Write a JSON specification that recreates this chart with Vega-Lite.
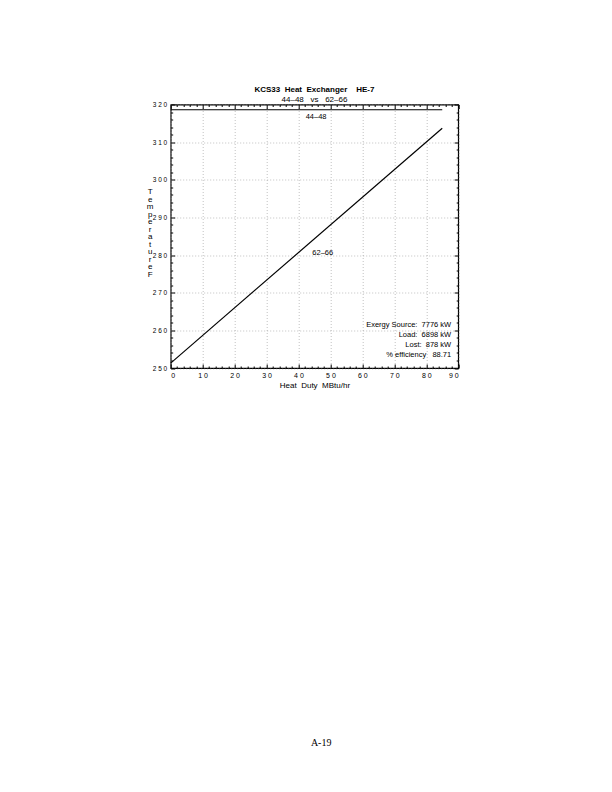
{
  "$schema": "https://vega.github.io/schema/vega-lite/v6.json",
  "autosize": {"type": "none"},
  "padding": {"left": 170.7, "top": 104.5, "right": 153.8, "bottom": 424},
  "width": 287.5,
  "height": 263.5,
  "background": "white",
  "config": {
    "view": {"stroke": "black", "strokeWidth": 1.2},
    "font": "Liberation Sans",
    "axis": {
      "domain": false,
      "labelFont": "Liberation Sans",
      "labelFontSize": 7,
      "labelColor": "black",
      "tickColor": "black",
      "tickWidth": 1,
      "titleFont": "Liberation Sans",
      "titleFontWeight": "normal",
      "titleColor": "black",
      "titleFontSize": 8
    }
  },
  "title": {
    "text": "KCS33\u00a0\u00a0Heat\u00a0\u00a0Exchanger\u00a0\u00a0\u00a0\u00a0HE-7",
    "subtitle": "44–48\u00a0\u00a0\u00a0vs\u00a0\u00a0\u00a062–66",
    "font": "Liberation Sans",
    "fontSize": 8,
    "fontWeight": "bold",
    "color": "black",
    "subtitleFont": "Liberation Sans",
    "subtitleFontSize": 8,
    "subtitleColor": "black",
    "subtitlePadding": 2,
    "anchor": "middle",
    "offset": -2
  },
  "datasets": {
    "lines": [
      {"duty": 0, "temp": 318.6, "stream": "44-48"},
      {"duty": 85, "temp": 318.6, "stream": "44-48"},
      {"duty": 0, "temp": 251.3, "stream": "62-66"},
      {"duty": 85, "temp": 313.7, "stream": "62-66"}
    ],
    "labels": [
      {"duty": 45.5, "temp": 316.6, "label": "44–48"},
      {"duty": 47.6, "temp": 280.6, "label": "62–66"}
    ],
    "info": [
      {"duty": 87.8, "temp": 261.4, "label": "Exergy Source:\u00a0 7776 kW"},
      {"duty": 87.8, "temp": 258.7, "label": "Load:\u00a0 6898 kW"},
      {"duty": 87.8, "temp": 256.0, "label": "Lost:\u00a0 878 kW"},
      {"duty": 87.8, "temp": 253.4, "label": "% efficiency\u00a0\u00a0 88.71"}
    ],
    "footer": [
      {"duty": 47.1, "temp": 150.4, "label": "A-19"}
    ]
  },
  "resolve": {"axis": {"x": "independent", "y": "independent"}},
  "layer": [
    {
      "data": {"name": "lines"},
      "transform": [{"filter": "datum.stream === '62-66'"}],
      "mark": {"type": "line", "color": "black", "strokeWidth": 1.2},
      "encoding": {
        "x": {
          "field": "duty", "type": "quantitative",
          "scale": {"domain": [0, 90], "nice": false, "zero": false},
          "axis": {
            "orient": "bottom",
            "values": [0,2,4,6,8,10,12,14,16,18,20,22,24,26,28,30,32,34,36,38,40,42,44,46,48,50,52,54,56,58,60,62,64,66,68,70,72,74,76,78,80,82,84,86,88,90],
            "labelExpr": "datum.value % 10 === 0 ? join(split(datum.label, ''), ' ') : ''",
            "tickSize": {"condition": {"test": "datum.value % 10 === 0", "value": -4}, "value": -2},
            "grid": true,
            "gridColor": "#999999",
            "gridDash": [1, 2],
            "gridWidth": 0.6,
            "gridOpacity": {"condition": {"test": "datum.value % 10 === 0", "value": 1}, "value": 0},
            "labelPadding": 7,
            "title": "Heat\u00a0 Duty\u00a0 MBtu/hr",
            "titlePadding": 3
          }
        },
        "y": {
          "field": "temp", "type": "quantitative",
          "scale": {"domain": [250, 320], "nice": false, "zero": false},
          "axis": {
            "orient": "left",
            "values": [250,252,254,256,258,260,262,264,266,268,270,272,274,276,278,280,282,284,286,288,290,292,294,296,298,300,302,304,306,308,310,312,314,316,318,320],
            "labelExpr": "datum.value % 10 === 0 ? join(split(datum.label, ''), ' ') : ''",
            "tickSize": {"condition": {"test": "datum.value % 10 === 0", "value": -4}, "value": -2},
            "grid": true,
            "gridColor": "#999999",
            "gridDash": [1, 2],
            "gridWidth": 0.6,
            "gridOpacity": {"condition": {"test": "datum.value % 10 === 0", "value": 1}, "value": 0},
            "labelPadding": 8,
            "labelFontSize": 6.5,
            "title": ["T","e","m","p","e","r","a","t","u","r","e","\u00a0","F"],
            "titleAngle": 0,
            "titleAlign": "center",
            "titleBaseline": "top",
            "titleLineHeight": 7.5,
            "titleFontSize": 8,
            "titleX": -21,
            "titleY": 83
          }
        }
      }
    },
    {
      "data": {"name": "lines"},
      "transform": [{"filter": "datum.stream === '44-48'"}],
      "mark": {"type": "line", "color": "black", "strokeWidth": 1.2},
      "encoding": {
        "x": {
          "field": "duty", "type": "quantitative",
          "axis": {
            "orient": "top",
            "values": [0,2,4,6,8,10,12,14,16,18,20,22,24,26,28,30,32,34,36,38,40,42,44,46,48,50,52,54,56,58,60,62,64,66,68,70,72,74,76,78,80,82,84,86,88,90],
            "labels": false,
            "grid": false,
            "tickSize": {"condition": {"test": "datum.value % 10 === 0", "value": -4}, "value": -2},
            "title": null
          }
        },
        "y": {
          "field": "temp", "type": "quantitative",
          "axis": {
            "orient": "right",
            "values": [250,252,254,256,258,260,262,264,266,268,270,272,274,276,278,280,282,284,286,288,290,292,294,296,298,300,302,304,306,308,310,312,314,316,318,320],
            "labels": false,
            "grid": false,
            "tickSize": {"condition": {"test": "datum.value % 10 === 0", "value": -4}, "value": -2},
            "title": null
          }
        }
      }
    },
    {
      "data": {"name": "labels"},
      "mark": {"type": "text", "fontSize": 7.5, "font": "Liberation Sans", "color": "black", "align": "center", "baseline": "middle"},
      "encoding": {
        "x": {"field": "duty", "type": "quantitative", "axis": null},
        "y": {"field": "temp", "type": "quantitative", "axis": null},
        "text": {"field": "label"}
      }
    },
    {
      "data": {"name": "info"},
      "mark": {"type": "text", "fontSize": 7.5, "font": "Liberation Sans", "color": "black", "align": "right", "baseline": "middle"},
      "encoding": {
        "x": {"field": "duty", "type": "quantitative", "axis": null},
        "y": {"field": "temp", "type": "quantitative", "axis": null},
        "text": {"field": "label"}
      }
    },
    {
      "data": {"name": "footer"},
      "mark": {"type": "text", "fontSize": 10, "font": "Liberation Serif", "color": "black", "align": "center", "baseline": "middle", "clip": false},
      "encoding": {
        "x": {"field": "duty", "type": "quantitative", "axis": null},
        "y": {"field": "temp", "type": "quantitative", "axis": null},
        "text": {"field": "label"}
      }
    }
  ]
}
